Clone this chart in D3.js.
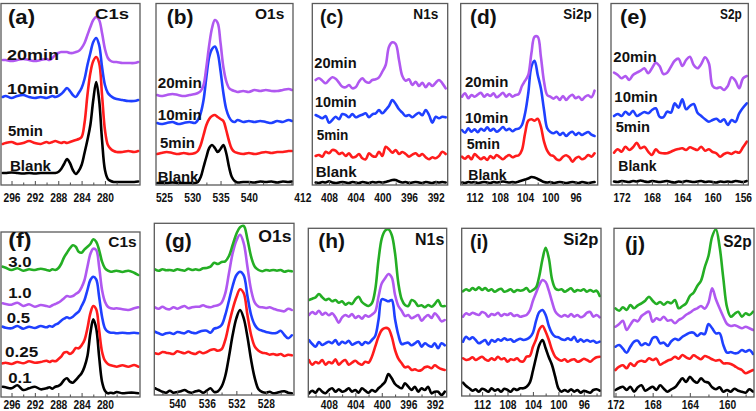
<!DOCTYPE html>
<html><head><meta charset="utf-8">
<script src="https://cdn.jsdelivr.net/npm/d3@7"></script>
<style>
body{margin:0;background:#fff}
svg{display:block}
text{font-family:"Liberation Sans",Arial,Helvetica,sans-serif;font-weight:bold}
</style>
</head><body>
<svg id="chart" width="756" height="411"></svg>
<script>
// ---------- energy grids (binding energy, eV) ----------
const xC1s = [297.5,297,296,295,294,293,292,291,290,289.5,289,288.5,288,287.5,287,286.5,286,285.5,285,284.5,284,283.5,283,282.5,282,281.5,281,280.5,280,279.5,279,278.5,278,277,276,275,274.3];
const xO1sA = [523.8,524.5,525.5,526.5,527.5,528.5,529.5,530.5,531,531.5,532,532.5,533,533.5,534,534.5,535,535.5,536,536.5,537,537.5,538,539,540,541,542,543,544,545,546,547,547.6];
const xN1sA = [410,409.5,409,408.5,408,407.5,407,406.5,406,405.5,405,404.5,404,403.5,403,402.5,402,401.5,401,400.5,400,399.5,399,398.5,398,397.5,397,396.5,396,395.5,395,394.5,394,393.5,393,392.5,392,391.5,391,390.5];
const xSi2pA = [114,113.5,113,112.5,112,111.5,111,110.5,110,109.5,109,108.5,108,107.5,107,106.5,106,105.5,105,104.5,104,103.5,103,102.5,102,101.5,101,100.5,100,99.5,99,98.5,98,97.5,97,96.5,96,95.5,95,94.5,94,93.5,93];
const xS2pA = [173,172.5,172,171.5,171,170.5,170,169.5,169,168.5,168,167.5,167,166.5,166,165.5,165,164.5,164,163.5,163,162.5,162,161.5,161,160.5,160,159.5,159,158.5,158,157.5,157,156.5,156,155.5];
const xO1sB = [543,542.5,542,541.5,541,540.5,540,539.5,539,538.5,538,537.5,537,536.5,536,535.5,535,534.5,534,533.5,533,532.5,532,531.5,531,530.5,530,529.5,529,528.5,528,527.5,527,526.5,526,525.5,525,524.5];
const xN1sB = [411,410.5,410,409.5,409,408.5,408,407.5,407,406.5,406,405.5,405,404.5,404,403.5,403,402.5,402,401.5,401,400.5,400,399.5,399,398.5,398,397.5,397,396.5,396,395.5,395,394.5,394,393.5,393,392.5,392,391.5,391,390.5];
const xSi2pB = [115,114.5,114,113.5,113,112.5,112,111.5,111,110.5,110,109.5,109,108.5,108,107.5,107,106.5,106,105.5,105,104.5,104,103.5,103,102.5,102,101.5,101,100.5,100,99.5,99,98.5,98,97.5,97,96.5,96,95.5,95,94.5,94,93.5];
const xS2pB = [172,171.6,171.2,170.8,170.4,170,169.6,169.2,168.8,168.4,168,167.6,167.2,166.8,166.4,166,165.6,165.2,164.8,164.4,164,163.6,163.2,162.8,162.4,162,161.6,161.2,160.8,160.4,160,159.6,159.2,158.8,158.4,158,157.6,157.2];

// ---------- intensities (a.u., offset-stacked) ----------
// (a) C1s vs time
const aBlank = [12,12,12.5,12,11.5,12,11.5,12,12,12,12,12,13,16,21,26,22,15,11,14,20,32,45,60,85,103,85,45,15,6,4,3,3,3,3,3,3.5];
const a5min  = [41,42,43,41,42,44,42,41,43,42,43,44,43,42,43,42,43,44,45,46,48,62,90,112,124,128,122,90,55,40,36,34,33,33,34,33,34];
const a10min = [88,89,87,89,90,88,87,88,87,88,89,88,89,91,94,97,94,90,88,92,97,106,120,132,143,147,140,118,100,92,89,87,86,85,84,84,85];
const a20min = [125,125,124,125,126,125,124,125,126,125,127,130,132,133,133,133,132,132,133,134,137,142,150,158,165,168,165,152,136,127,124,123,123,122,122,122,123];
// (b) O1s vs time
const bBlank = [2,2,2,2.5,2,2,2,2,3,8,18,28,37,40,37,33,36,40,32,18,8,4,2.5,3,3,2.5,3.5,3,3.5,2.5,3.5,3,3.5];
const b5min  = [31,32,33,32,31,32,31,32,34,40,50,60,66,69,70,68,66,64,55,44,36,33,32,31,32,31,32,33,32,33,33,34,34];
const b10min = [62,61,62,63,61,62,63,62,65,72,85,108,128,136,138.5,132,114,92,76,68,64,63,65,63,64,63,64,63,62,64,63,65,64];
const b20min = [90,89,90,91,90,89,90,91,92,94,100,118,140,157,165,162,142,118,104,97,95,94,93,94,93,95,94,95,94,94,95,96,95];
// (c) N1s vs time
const cBlank = [2.5,2,3,2.5,3.7,2.5,2,2.5,3,2.5,2,3,2.5,2,3,2.5,2,3,2.5,3,2.5,3,4,5,5,3.5,2.5,3,2,2.5,3,2.5,2,3,2.5,2,3,2.5,3,2.5];
const c5min  = [29,30,28.3,33.3,31.7,35,34.3,31,32.3,29,31.7,27.7,28.3,31,26.7,25.7,31.7,29,28.3,33.3,29,38.3,35.7,32.3,35,31,33,31,28.3,30.3,31.7,29,31,27.7,25.7,27.7,26.7,29,33.3,31];
const c10min = [70,68.3,66.7,69,62.3,65,68.3,65.7,71,70,67.7,71,67.7,69,70.3,71.7,67.7,70.7,71.7,75,71.7,75,79,85,81,75.7,72.3,69,70,67.7,70.3,72.3,69.7,75,70,62.3,68.3,66.7,68.3,67.7];
const c20min = [105,106.7,104.3,101.7,105,107.7,106.3,102.3,98.3,97.7,100,96.7,97.7,103.3,106.7,103.3,102.3,105,105.7,107.7,113.3,120,138.3,142.7,141,125,109,104.3,105.7,100,103.3,99,102.3,97.7,101.7,99,102.3,105,101.7,96.7];
// (d) Si2p vs time
const dBlank = [2.5,2,3,2.5,3,2,2.5,3,2.5,2,3,2.5,3,3.5,3,2.5,3,2.5,3.5,4.5,5.5,6.5,8,7.5,6,4.5,3,2.5,3,2,2.5,3,2.5,2,2.5,3,2.5,2,3,2.5,2,2.5,3];
const d5min  = [28.3,26.3,29,25.7,31,28.3,25.7,27.7,25,29,26.7,30,27.7,25.7,28.3,30,27.7,29,29.7,35,51.7,64.3,65.7,64.3,66.3,58.3,43.3,34.3,30,29,25.7,25,28.3,29.7,27.7,23.3,26.7,28.3,25.7,27,30,28.3,31.7];
const d10min = [55,52.3,56.7,53.3,55.7,52.7,56.3,54.3,57.7,54.3,56.3,53.3,55.3,58,54.7,56.3,53.7,55.7,56.3,60,71.7,91.7,118.3,124.3,110,96.7,75,56.7,53,51.7,53.3,50,52.3,49,51.7,53.3,50,52.3,50,51.7,53,50.3,49];
const d20min = [88.3,91.7,86.7,90,88.3,90.3,92.3,88.3,90.7,89,91.7,87.7,89.7,92.3,88.3,91,88.3,90,91,99,104.3,110,131.7,148.3,148.3,128.3,103.3,90,88.3,86.3,88.3,85,89,85,88.3,90.3,86.7,88.3,85,88.3,89.7,87.7,94.3];
// (e) S2p vs time
const eBlank = [3.5,3,4,3.5,3,4,3.5,4.5,3.5,3,4,3.5,3,3.5,4,3,2.5,3.5,3,4,3.5,3,3.5,4,3,3.5,3,2.5,3.5,3,3.5,3,4,3.5,3,4];
const e5min  = [32.3,35.7,33.3,38.3,35,37.7,42.3,36.7,38.3,33.3,30,35.7,32.3,31.7,31.7,33.3,35,36,36.7,35,37.7,36.3,35,38.3,34.3,35.7,33,31.7,28.3,31,32.3,31,33.3,32.3,37.7,43.3];
const e10min = [69,71,69,73.3,70.3,74.3,69,71,73,71.7,75,76.7,68.3,67.7,73.3,72.3,81.7,77.3,85.7,75.7,79,81,72.3,69,65.7,63.3,65,66.3,63.3,65.7,60,65,63,71.7,77.3,81.7];
const e20min = [112.3,110,106.7,109,105,110,112.3,114.3,116.7,111.7,116.7,122.3,119,111,112.3,118.3,124.3,126.3,119,125,128.3,120,116.7,121,127.7,121.7,99,96.7,97.7,95,99,107.7,104.3,96.7,106.7,109];
// (f) C1s vs dose
const f01  = [10.3,9.7,8.7,11.7,7,8.7,10.3,7.7,8.7,9.7,8.3,10.3,11,13,17,18.7,15.3,14.3,17,20.3,23.7,30.3,41,63.7,77.7,68.7,40.3,15.3,6.3,3.7,4.3,3.7,5,3.7,4.3,4.3,3.7];
const f025 = [33.7,34.3,33,35,33.7,35.7,34.3,35,36.3,35,36.3,35.7,37.7,40.3,44.3,45,43,45,49,48.7,51.7,57,68.7,83.7,91,87.7,67,45.3,36.3,33,31.7,31,30.3,31.7,30.3,32,30.3];
const f05  = [70.3,69.3,68.7,71,68.3,70.3,69,71,69.7,71,70.3,72.3,73.7,76.3,78.3,79.7,78.7,80.3,83,85.3,91,97,107,117,120.3,117.7,100.3,80.3,68.7,65.3,64.3,64.3,63.7,64.3,63.7,64.3,63.7];
const f10  = [93.7,93,92.3,94.3,91,92.7,90.3,92,91,90.3,91.7,93,94.3,96.3,98.7,101,100.3,101,103,105,109.7,117,130.3,143,148.3,147,130.3,107,95.3,90.3,88.7,88.3,88.7,87.7,87,88.7,89.7];
const f30  = [130.3,129.3,127,128.7,126.3,127.7,127,128.3,127,126.3,127.7,127,128.7,133,139.7,144.3,148.7,151.7,150.3,145.3,144.3,147.7,150.3,153,157.7,155.3,147,135.3,128.7,126.3,125.3,125.7,126.3,125,126.3,124.3,122];
// (g) O1s vs dose
const g01  = [6.7,5,3.3,2.3,4.3,2.3,3,3.7,5,3,2.3,3.7,4.3,2.3,4.3,6.7,3,3.7,8.3,19,38.3,60,76.7,85,76.7,58.3,35,16.7,5.7,3,2.3,3.3,1.7,2.3,3.3,3.7,2.3,1.7];
const g025 = [41.7,41,43,42.3,41.7,41,43.7,42.7,41.7,43.3,41.7,41,43.3,41.7,43,45,45.7,44.3,45.7,55,71,85.7,97.7,105.7,101.7,80,60,48.3,44.3,42.3,41.7,40.3,41,40,41,39,40.3,39.7];
const g05  = [63.3,61.7,60.3,61.7,62.3,61,63,62.3,61.7,63.7,62.3,61.7,63.3,64.3,64.3,62.3,66.3,67.3,70,80,94.3,109,119.7,123.3,119.7,99,80,70,65.7,64.3,63,62.3,61.7,62.3,64.3,60,56.7,59.7];
const g10  = [87.7,86.3,88.3,86.3,85.7,87.7,86.3,87.7,89,86.7,87.7,88.3,88.3,89.7,88.3,87.7,89,89.7,92.3,101.7,121.7,141.7,154.3,160.3,151.7,128.3,105,92.3,88.3,87.7,87,87.7,86.3,85,84.3,83.7,86.3,85];
const g30  = [125.7,124.3,125.7,124.7,125,124.3,125.7,125,124.3,126.3,125,125.7,125,126.7,127,128.3,132.3,131,133,133.7,139,150,161,167.7,169,155.7,138.3,128.3,125,123.7,125,124.3,125,124.3,125,123.3,124.3,123.7];
// (h) N1s vs dose
const h01  = [3.7,6.3,4.3,8.3,5.3,3.7,7,8.7,5.3,7.7,5.3,6.3,8.7,5.3,7,4.3,8.7,6.3,4.3,7,5.3,8.7,11.7,15.3,23,18.7,13,10.3,8.7,13.7,10.3,7,10.3,5.3,8.7,7,10.3,3.7,5.3,5.3,2,5.3];
const h025 = [37,32.3,35,33.7,37,32.3,35,33.7,37.7,32.3,35.3,37,32.3,34.3,36.3,33.7,32.3,35.3,34.3,40.3,50.3,60.3,67,69,68.3,60.3,47,38.3,33.7,29.7,30.3,27,27.7,26.3,27,29.7,30.3,28.7,31.7,29.7,28,27];
const h05  = [57,53,50.3,55,52,53.7,55.3,53.7,57,52.3,55.3,53.7,56.3,52.3,53.7,55,52,55,53.7,57,61,77,97.7,97,95.7,97,77.7,62,53,53.7,54.3,51.7,53.7,55.7,50.3,53.7,51.7,50.3,53.7,48.7,53.7,51.7];
const h10  = [82,85,83,86.3,82.3,84.3,81.7,83.7,79.7,74.3,79.7,82,80.3,83,79,81,78.3,81.7,80.3,82.3,85.3,100.3,113.7,118.7,123,119.7,102,91,86.3,81,82,78.7,80.3,82,76.3,79.7,82,79,83.7,80.3,75.7,77];
const h30  = [97,98.3,99.7,103,99.7,97,98.3,95.7,97,94.3,95.7,92.3,94.3,93,97.7,100.3,95,92.3,91,93.7,107,137,158.7,166.3,167.7,162,143.7,113.7,97.7,92,91,97,95.3,91,91.7,89.7,92,90.3,93,97,91,91];
// (i) Si2p vs dose
const i01  = [13.3,10,7.7,5.3,6.7,4.3,7.3,6,4.3,7.7,5.3,6.7,4.3,7.3,6,4.3,7.3,6,7.7,7.7,9.3,13.3,25.3,38.7,51,56,47.7,38.7,31,19.3,7.7,4.3,6,4.3,6.7,4.3,6,3.3,5.3,4.3,3.3,6,6.7,5.3];
const i025 = [37.7,36,36.7,38.7,36,37.7,39.3,36.7,35.3,37.7,36,39.3,36.7,37.7,34.3,36.7,36,37.7,34.7,34.7,39.3,40,49.3,56.7,66.7,70,64.3,56,46,39.3,36.7,35.3,36.7,34.3,36,36.7,34.3,35.3,37.3,36,34.3,36.7,38.7,39.3];
const i05  = [54.3,59.3,56.7,58.7,56,52.7,54.3,56,51.3,56,54.3,56.7,55.3,57.7,56,56.7,54.3,56,57.3,56,56.7,58.7,63.3,75.3,84,86,81,70,62.7,59.3,58.7,56.7,56,57.7,56,59.3,54.3,56.7,54.3,56,54.3,55.3,53.3,54.3];
const i10  = [79.3,82.7,81.3,83.3,82,81,84,82.7,79.3,82,81,83.3,80,82,81,82.7,80,81,79.3,80,81,85.3,95.3,103.3,111,116,114,105.3,94.3,84.7,81,79.3,81,79.3,82,79.3,81,78.7,80,83.3,84,79.3,81,78.7];
const i30  = [104.7,106.7,105.3,108,106,108.7,106,108,105.3,106.7,104.3,106,107.3,104.3,105.3,106.7,104,106,105.3,106,108,104.3,106,108.7,120,136.7,148.3,137.7,116.7,107.7,106,106.7,104.3,106,107.7,104.3,106,105.3,106.7,104.3,106,104.3,105.3,100];
// (j) S2p vs dose
const j01  = [7,9,10.3,7,10.3,5.3,9.7,11.7,6.3,8.3,10.3,7,11.7,8.3,5.3,7.7,9.7,14.3,18.7,15,20.3,16.3,14.3,18.7,15.3,14.3,9.7,7.7,9.7,5.3,7,5.3,8.3,6.3,5.3,4.3,7.7,5.3];
const j025 = [27,30.3,31.7,28.7,33.7,31,35,36.3,35.3,38.7,37,38.3,32.3,34.3,36.3,37.7,40.3,38.3,42,39.7,38.3,41.7,39.7,37.7,41,39.7,37.7,36.3,37,33.7,33.7,33,31,28.7,27,23.7,25.3,27];
const j05  = [50.3,52,48.3,44.3,50.3,55.3,56.3,51.7,53.7,52,59,59.7,53.7,54.3,51,55.7,58.3,57,60.3,62.3,64.3,64.3,61,63.7,63,73,68.7,63.7,63.7,52,44.3,45,43.7,44.3,47,45.3,47,43];
const j10  = [70.3,73,76.3,67,72.3,77,75.7,81,83.7,85.3,75.3,78.7,77,80.3,76.3,77,73.7,77,79,82.3,84.3,87,88.7,91,88.3,94.3,108.7,97.7,88.7,80.3,73,71,71.7,70.3,68.7,70.3,68.7,67];
const j30  = [88.7,86.3,89.7,87,92,88.7,91.7,93.7,96.3,100.3,96.3,93,95,92.3,95,93.7,97,88.7,91,93.7,101,104.3,111,116.3,129.7,141,160.3,167.7,150.3,118.7,89.7,80.3,83,85.3,80.3,83.7,82,85.3];

// ---------- tick labels ----------
const ticksC1s  = [296,292,288,284,280];
const ticksO1sA = [525,530,535,540];
const ticksN1sA = [412,408,404,400,396,392];
const ticksSi2p = [112,108,104,100,96];
const ticksS2pA = [172,168,164,160,156];
const ticksO1sB = [540,536,532,528];
const ticksN1sB = [408,404,400,396,392];
const ticksS2pB = [172,168,164,160];

// ---------- styling / layout ----------
const COL = {k:"#000000", r:"#ff1c1c", b:"#1f40ff", p:"#b058f0", g:"#24ae24"};
const FRAME = "#5a5a5a";

const panels = [
 {xs:xC1s, fx:[1,140], fy:[3.5,185], dom:[297.8,274.0], ticks:ticksC1s, tb:202, tw:5.7,
  ser:[[aBlank,"k"],[a5min,"r"],[a10min,"b"],[a20min,"p"]],
  txt:[["(a)",8,24,27,20],["C1s",95,19,34,15],["20min",7,60,52,15],["10min",7,94,52,15],["5min",8,136,35,15],["Blank",10,170.5,41,15]]},
 {xs:xO1sA, fx:[156,293], fy:[3.5,185], dom:[523.6,547.8], ticks:ticksO1sA, tb:202, tw:5.7,
  ser:[[bBlank,"k"],[b5min,"r"],[b10min,"b"],[b20min,"p"]],
  txt:[["(b)",166.7,24,26.7,20],["O1s",255,19,29.3,15],["20min",157.7,88.3,44,14.5],["10min",157.7,120,44,14.5],["5min",160,147.7,35,14.5],["Blank",157.7,181.7,40.7,14.5]]},
 {xs:xN1sA, fx:[312.3,447.7], fy:[3.5,185], dom:[410.5,390.2], ticks:ticksN1sA, tb:202, tw:5.7,
  ser:[[cBlank,"k"],[c5min,"r"],[c10min,"b"],[c20min,"p"]],
  txt:[["(c)",320,24,23.3,20],["N1s",413.3,18.5,25,14.5],["20min",314.3,68.3,42.3,14.5],["10min",315,107.3,41.7,14.5],["5min",316.7,140,31.7,14.5],["Blank",315.7,176.7,41,14.5]]},
 {xs:xSi2pA, fx:[460.7,597.7], fy:[3.5,185], dom:[114.2,92.5], ticks:ticksSi2p, tb:202, tw:5.7,
  ser:[[dBlank,"k"],[d5min,"r"],[d10min,"b"],[d20min,"p"]],
  txt:[["(d)",470,24,26.7,20],["Si2p",563.3,18.5,28.3,14.5],["20min",465,87.3,43.3,14.5],["10min",465,122.7,43.3,14.5],["5min",466.7,149.3,33.3,14.5],["Blank",468.3,180,38.3,14.5]]},
 {xs:xS2pA, fx:[611,748.3], fy:[3.5,185], dom:[173.4,155.3], ticks:ticksS2pA, tb:202, tw:5.7,
  ser:[[eBlank,"k"],[e5min,"r"],[e10min,"b"],[e20min,"p"]],
  txt:[["(e)",620,24,26.7,20],["S2p",720,18.5,21.7,14.5],["20min",613.3,61.7,43.3,14.5],["10min",614.3,101.7,43.3,14.5],["5min",615.7,131.7,34.3,14.5],["Blank",618.3,170.7,38.3,14.5]]},
 {xs:xC1s, fx:[1,140], fy:[232,397], dom:[297.8,274.0], ticks:ticksC1s, tb:409, tw:5.7,
  ser:[[f01,"k"],[f025,"r"],[f05,"b"],[f10,"p"],[f30,"g"]],
  txt:[["(f)",8.3,246.5,23.3,20],["C1s",108.3,246.7,28.3,15],["3.0",8.3,266.7,23.3,15],["1.0",8.3,298.3,23.3,15],["0.5",6.7,323.3,23.3,15],["0.25",5,356.7,33.3,15],["0.1",8.3,383.3,23.3,15]]},
 {xs:xO1sB, fx:[154.3,294], fy:[223.3,395], dom:[543.1,524.2], ticks:ticksO1sB, tb:407.5, tw:5.7,
  ser:[[g01,"k"],[g025,"r"],[g05,"b"],[g10,"p"],[g30,"g"]],
  txt:[["(g)",165,248,26.7,20],["O1s",258.3,241.7,33.3,16]]},
 {xs:xN1sB, fx:[308.3,446.7], fy:[228.3,397], dom:[411.1,390.2], ticks:ticksN1sB, tb:408.5, tw:5.7,
  ser:[[h01,"k"],[h025,"r"],[h05,"b"],[h10,"p"],[h30,"g"]],
  txt:[["(h)",318.3,247.5,26.7,20],["N1s",415,245,29.3,16]]},
 {xs:xSi2pB, fx:[461.7,601], fy:[228.3,396], dom:[115.2,93.3], ticks:ticksSi2p, tb:408.5, tw:5.7,
  ser:[[i01,"k"],[i025,"r"],[i05,"b"],[i10,"p"],[i30,"g"]],
  txt:[["(i)",470,249,18.3,20],["Si2p",563.3,245,35,16]]},
 {xs:xS2pB, fx:[614,754], fy:[228.3,397], dom:[172.16,157.1], ticks:ticksS2pB, tb:408.5, tw:5.7,
  ser:[[j01,"k"],[j025,"r"],[j05,"b"],[j10,"p"],[j30,"g"]],
  txt:[["(j)",625,250.5,20,20],["S2p",723.3,246.7,28.3,16]]}
];

const svg = d3.select("#chart");

panels.forEach((p, pi) => {
  const x = d3.scaleLinear().domain(p.dom).range(p.fx);
  const H = p.fy[1] - p.fy[0];
  const y = d3.scaleLinear().domain([0, H]).range([p.fy[1], p.fy[0]]);
  const clipId = "clip" + pi;
  svg.append("clipPath").attr("id", clipId).append("rect")
    .attr("x", p.fx[0]).attr("y", p.fy[0]).attr("width", p.fx[1]-p.fx[0]).attr("height", H);

  // spectra
  const gL = svg.append("g").attr("clip-path", `url(#${clipId})`);
  p.ser.forEach(([vals, c]) => {
    const line = d3.line().x((d,i) => x(p.xs[i])).y(d => y(d)).curve(d3.curveCatmullRom.alpha(0.5));
    gL.append("path").datum(vals).attr("d", line).attr("fill","none")
      .attr("stroke", COL[c]).attr("stroke-width", 2.6)
      .attr("stroke-linejoin","round").attr("stroke-linecap","round");
  });

  // frame
  svg.append("rect").attr("x", p.fx[0]).attr("y", p.fy[0])
    .attr("width", p.fx[1]-p.fx[0]).attr("height", H)
    .attr("fill","none").attr("stroke", FRAME).attr("stroke-width", 1.3);

  // ticks (inward)
  const lo = Math.min(...p.dom), hi = Math.max(...p.dom);
  const step = Math.abs(p.ticks[1]-p.ticks[0]);
  const major = p.ticks.filter(v => v >= lo && v <= hi);
  const minor = [];
  for (let v = Math.min(...p.ticks) - step/2; v <= hi; v += step) if (v >= lo && v <= hi) minor.push(v);
  const gT = svg.append("g").attr("transform", `translate(0,${p.fy[1]})`)
    .call(d3.axisBottom(x).tickValues(major).tickSizeInner(-4).tickSizeOuter(0).tickFormat(""));
  gT.select(".domain").remove();
  gT.selectAll("line").attr("stroke", FRAME).attr("stroke-width", 1.1);
  const gM = svg.append("g").attr("transform", `translate(0,${p.fy[1]})`)
    .call(d3.axisBottom(x).tickValues(minor).tickSizeInner(-2.5).tickSizeOuter(0).tickFormat(""));
  gM.select(".domain").remove();
  gM.selectAll("line").attr("stroke", FRAME).attr("stroke-width", 1.1);

  // tick labels
  const gA = svg.append("g").attr("transform", `translate(0,${p.fy[1]})`)
    .call(d3.axisBottom(x).tickValues(p.ticks).tickSize(0).tickFormat(d3.format("d")));
  gA.select(".domain").remove();
  gA.selectAll("line").remove();
  gA.selectAll("text")
    .attr("y", p.tb - p.fy[1]).attr("dy", 0)
    .attr("font-size", 12.5).attr("fill", "#111")
    .each(function(d){ d3.select(this).attr("textLength", String(d).length * p.tw).attr("lengthAdjust","spacingAndGlyphs"); });

  // labels
  p.txt.forEach(([t, tx, ty, w, fs]) => {
    svg.append("text").attr("x", tx).attr("y", ty).attr("font-size", fs)
      .attr("fill", "#111").attr("textLength", w).attr("lengthAdjust","spacingAndGlyphs").text(t);
  });
});
</script>
</body></html>
